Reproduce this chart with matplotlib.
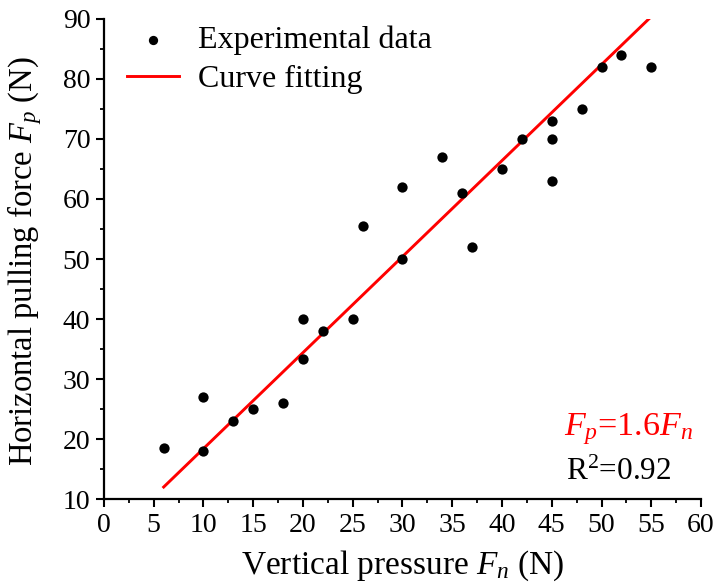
import matplotlib
matplotlib.use("Agg")
import matplotlib.pyplot as plt
from matplotlib.ticker import MultipleLocator

matplotlib.rcParams.update({
    "font.family": "serif",
    "font.serif": ["Liberation Serif", "DejaVu Serif"],
    "font.size": 20,
    "mathtext.fontset": "custom",
    "mathtext.rm": "Liberation Serif",
    "mathtext.it": "Liberation Serif:italic",
    "axes.spines.top": False,
    "axes.spines.right": False,
})

# ── data ──────────────────────────────────────────────────────────────────────
fn = [6, 10, 10, 13, 15, 18, 20, 20, 22, 25, 26, 30, 30, 34, 36, 37,
      40, 42, 45, 45, 45, 48, 50, 52, 55]
fp = [18.5, 27, 18, 23, 25, 26, 40, 33.3, 38, 40, 55.5, 62, 50, 67, 61, 52,
      65, 70, 73, 70, 63, 75, 82, 84, 82]

fit_x = [6, 55]
fit_y = [12, 90.4]

fig = plt.figure(figsize=(7.19, 5.84), dpi=100)
ax = fig.add_axes([0.1446, 0.1455, 0.8304, 0.822])

ax.scatter(fn, fp, s=55, color="black", linewidths=0, zorder=3,
           label="Experimental data")
ax.plot(fit_x, fit_y, color="#ff0000", lw=2.1, zorder=2, label="Curve fitting")

ax.set_xlim(0, 60)
ax.set_ylim(10, 90)
ax.xaxis.set_major_locator(MultipleLocator(5))
ax.xaxis.set_minor_locator(MultipleLocator(2.5))
ax.yaxis.set_major_locator(MultipleLocator(10))
ax.yaxis.set_minor_locator(MultipleLocator(5))
ax.tick_params(which="major", direction="out", length=5.8, width=1.5,
               labelsize=20, pad=4)
ax.tick_params(which="minor", direction="out", length=3, width=1.3)
for sp in ("left", "bottom"):
    ax.spines[sp].set_linewidth(1.6)

ax.set_xlabel("Vertical pressure $F_n$ (N)", fontsize=24)
ax.set_ylabel("Horizontal pulling force $F_p$ (N)", fontsize=23.5)
ax.xaxis.set_label_coords(0.5, -0.103)
ax.yaxis.set_label_coords(-0.1, 0.495)

ax.legend(loc="upper left", frameon=False, fontsize=23,
          bbox_to_anchor=(0.018, 1.0125), borderaxespad=0, borderpad=0.4,
          handlelength=1.6, handletextpad=0.6, labelspacing=0.3,
          markerscale=0.9)

ax.text(0.987, 0.133, "$F_p$=1.6$F_n$", transform=ax.transAxes,
        ha="right", va="baseline", color="#ff0000", fontsize=24.5)
ax.text(0.95, 0.04, "R$^2$=0.92", transform=ax.transAxes,
        ha="right", va="baseline", color="black", fontsize=22.5)

fig.savefig("out.png", dpi=100)
